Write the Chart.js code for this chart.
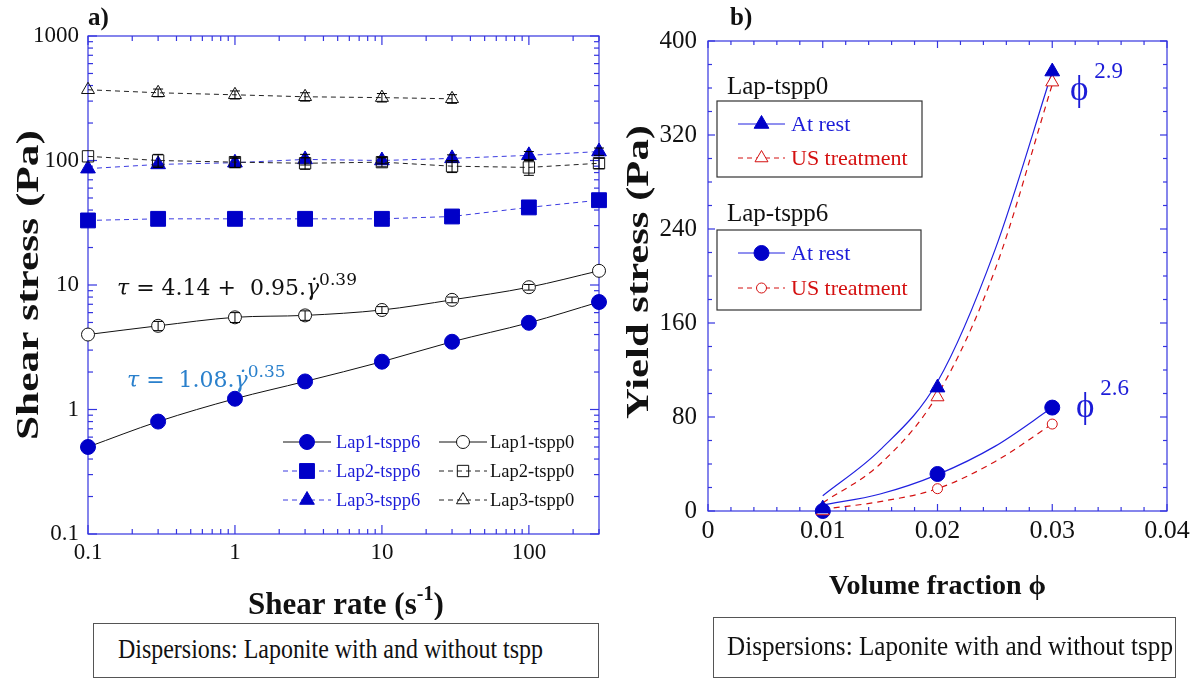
<!DOCTYPE html>
<html>
<head>
<meta charset="utf-8">
<script src="https://cdn.jsdelivr.net/npm/chart.js@4.4.0/dist/chart.umd.min.js"></script>
<style>
  body { margin: 0; background: #fff; width: 1199px; height: 679px; position: relative; overflow: hidden; font-family: "Liberation Serif", "Times New Roman", serif; }
  canvas { position: absolute; top: 0; }
  #left { left: 0; }
  #right { left: 600px; }
  .note { position: absolute; border: 1.5px solid #555; box-sizing: border-box; color: #111; white-space: nowrap; font-size: 28px; line-height: 1; }
  .note span { display: inline-block; transform-origin: 0 0; }
</style>
</head>
<body>
<canvas id="left" width="620" height="620"></canvas>
<canvas id="right" width="599" height="620"></canvas>
<div class="note" style="left:93px;top:623px;width:506px;height:55px;padding:11px 0 0 24px"><span data-w="425">Dispersions: Laponite with and without tspp</span></div>
<div class="note" style="left:713px;top:617px;width:463px;height:61px;padding:14px 0 0 13px"><span data-w="446">Dispersions: Laponite with and without tspp</span></div>
<script>
// ---- panel a: flow curves ----
const shearRate = [0.1, 0.3, 1, 3, 10, 30, 100, 300];
const lap1Tspp6 = [0.50, 0.80, 1.22, 1.68, 2.42, 3.5, 4.97, 7.3];
const lap1Tspp0 = [4.0, 4.7, 5.5, 5.7, 6.3, 7.6, 9.6, 13.0];
const lap2Tspp6 = [33, 34, 34, 34, 34, 35.5, 42, 48];
const lap2Tspp0 = [108, 100, 97, 95, 97, 90, 88, 95];
const lap3Tspp6 = [86, 93, 96, 102, 100, 104, 110, 118];
const lap3Tspp0 = [370, 350, 337, 325, 320, 313];
// error bar half-widths (Pa)
const lap1Tspp0Err = [0, 0.4, 0.5, 0.5, 0.4, 0.4, 0.5, 0];
const lap2Tspp0Err = [0, 12, 9, 10, 8, 10, 12, 9];
const lap3Tspp0Err = [0, 25, 25, 25, 25, 25];
const lap3Tspp6Err = [0, 0, 8, 10, 6, 7, 8, 8];
const rateTicks = [0.1, 1, 10, 100];
const stressTicks = [0.1, 1, 10, 100, 1000];

// ---- panel b: yield stress ----
const volFraction = [0.01, 0.02, 0.03];
const tspp0Rest = [2, 105, 374];
const tspp0US = [0, 97, 365];
const tspp6Rest = [0, 31.5, 88];
const tspp6US = [0, 19, 74];
const fitPhi = [0.01, 0.015, 0.02, 0.025, 0.03];
const fitTspp0Rest = [13, 52, 110, 222, 374];
const fitTspp0US = [7, 40, 99, 205, 363];
const fitTspp6Rest = [5, 14.5, 31, 55, 88];
const fitTspp6US = [1.5, 8, 19, 42, 74];
const phiTicks = [0, 0.01, 0.02, 0.03, 0.04];
const yieldTicks = [0, 80, 160, 240, 320, 400];

const BLUE = '#0000c8';
const AXIS = '#3434e0';
const LABEL_BLUE = '#1c1cd8';
const RED = '#d41010';
const SERIF = '"Liberation Serif", "Times New Roman", serif';

const pts = (xs, ys) => ys.map((v, i) => ({ x: xs[i], y: v }));

function drawRuns(ctx, x, y, runs, color) {
  ctx.fillStyle = color;
  ctx.textAlign = 'left';
  ctx.textBaseline = 'alphabetic';
  runs.forEach(([text, font, dy]) => {
    ctx.font = font;
    ctx.fillText(text, x, y + (dy || 0));
    x += ctx.measureText(text).width;
  });
}

// rotated axis title, stretched along its length to `len` pixels
function verticalTitle(ctx, text, cx, cy, font, len) {
  ctx.save();
  ctx.font = font;
  ctx.fillStyle = '#111';
  ctx.textAlign = 'center';
  ctx.textBaseline = 'middle';
  ctx.translate(cx, cy);
  ctx.rotate(-Math.PI / 2);
  ctx.scale(len / ctx.measureText(text).width, 1);
  ctx.fillText(text, 0, 0);
  ctx.restore();
}

function line(ctx, x1, y1, x2, y2) {
  ctx.beginPath();
  ctx.moveTo(x1, y1);
  ctx.lineTo(x2, y2);
  ctx.stroke();
}

// frame with ticks pointing into the plot on all four sides
const frameTicks = {
  id: 'frameTicks',
  beforeDatasetsDraw(chart, args, o) {
    const { ctx, chartArea: a, scales: { x, y } } = chart;
    ctx.save();
    ctx.strokeStyle = AXIS;
    ctx.lineWidth = 1.2;
    ctx.strokeRect(a.left, a.top, a.right - a.left, a.bottom - a.top);
    o.xTicks().forEach(([v, major]) => {
      const p = x.getPixelForValue(v);
      if (p < a.left - 0.5 || p > a.right + 0.5) return;
      const L = major ? o.major : o.minor;
      line(ctx, p, a.bottom, p, a.bottom - L);
      line(ctx, p, a.top, p, a.top + L);
    });
    o.yTicks().forEach(([v, major]) => {
      const p = y.getPixelForValue(v);
      if (p < a.top - 0.5 || p > a.bottom + 0.5) return;
      const L = major ? o.major : o.minor;
      line(ctx, a.left, p, a.left + L, p);
      line(ctx, a.right, p, a.right - L, p);
    });
    ctx.restore();
  }
};

function logTicks(lo, hi) {
  const out = [];
  for (let d = lo; d <= hi * 1.0001; d *= 10) {
    out.push([d, true]);
    for (let m = 2; m <= 9; m++) out.push([d * m, false]);
  }
  return out;
}
function linTicks(max, step, sub) {
  const out = [];
  const n = Math.round(max / step) * sub;
  for (let i = 0; i <= n; i++) out.push([i * step / sub, i % sub === 0]);
  return out;
}

// error bars for the datasets that carry an `err` array
const errorBars = {
  id: 'errorBars',
  afterDatasetsDraw(chart) {
    const { ctx, scales: { y } } = chart;
    ctx.save();
    chart.data.datasets.forEach((ds, i) => {
      if (!ds.err) return;
      const meta = chart.getDatasetMeta(i);
      ctx.strokeStyle = '#000';
      ctx.lineWidth = 1;
      meta.data.forEach((el, j) => {
        const e = ds.err[j];
        if (!e) return;
        const v = ds.data[j].y;
        const top = y.getPixelForValue(v + e), bot = y.getPixelForValue(v - e);
        line(ctx, el.x, top, el.x, bot);
        line(ctx, el.x - 5, top, el.x + 5, top);
        line(ctx, el.x - 5, bot, el.x + 5, bot);
      });
    });
    ctx.restore();
  }
};

function legendSample(ctx, ds, x1, x2, y) {
  ctx.save();
  ctx.strokeStyle = ds.borderColor;
  ctx.lineWidth = ds.borderWidth || 1;
  ctx.setLineDash(ds.borderDash || []);
  line(ctx, x1, y, x2, y);
  ctx.setLineDash([]);
  ctx.fillStyle = ds.pointBackgroundColor;
  ctx.strokeStyle = ds.pointBorderColor;
  ctx.lineWidth = ds.pointBorderWidth;
  Chart.helpers.drawPoint(ctx, { pointStyle: ds.pointStyle, radius: ds.pointRadius, rotation: 0, borderWidth: ds.pointBorderWidth }, (x1 + x2) / 2, y);
  ctx.restore();
}

// ---- panel a extras: legend, fitted equations, titles ----
const leftDecor = {
  id: 'leftDecor',
  afterDraw(chart) {
    const ctx = chart.ctx;
    const ds = chart.data.datasets;
    const rows = [442, 471, 500];
    const font = '18.5px ' + SERIF;
    [[0, 1], [4, 2], [5, 3]].forEach(([a, b], r) => {
      legendSample(ctx, ds[a], 283, 331, rows[r]);
      legendSample(ctx, ds[b], 439, 487, rows[r]);
      ctx.font = font;
      ctx.textBaseline = 'middle';
      ctx.textAlign = 'left';
      ctx.fillStyle = LABEL_BLUE;
      ctx.fillText(ds[a].label, 336, rows[r] + 1);
      ctx.fillStyle = '#111';
      ctx.fillText(ds[b].label, 490, rows[r] + 1);
    });

    const eq = '22px "DejaVu Serif", serif';
    const eqi = 'italic 22px "DejaVu Serif", serif';
    const sup = '17px "DejaVu Serif", serif';
    drawRuns(ctx, 117, 295, [['τ', eqi], [' = 4.14 +  0.95.', eq], ['γ̇', eqi], ['0.39', sup, -10]], '#111');
    drawRuns(ctx, 127, 387, [['τ', eqi], [' =  1.08.', eq], ['γ̇', eqi], ['0.35', sup, -10]], '#2a80cc');

    drawRuns(ctx, 88, 25, [['a)', 'bold 25px ' + SERIF]], '#111');
    drawRuns(ctx, 248, 614, [['Shear rate (s', 'bold 31px ' + SERIF], ['-1', 'bold 20px ' + SERIF, -14], [')', 'bold 31px ' + SERIF]], '#111');
    verticalTitle(ctx, 'Shear stress (Pa)', 30, 285, 'bold 32px ' + SERIF, 310);
  }
};

// ---- panel b extras: boxed legends, exponent labels, titles ----
const rightDecor = {
  id: 'rightDecor',
  afterDraw(chart) {
    const ctx = chart.ctx;
    const ds = chart.data.datasets;
    const o = 600; // canvas offset on the page
    const font = '22px ' + SERIF;
    const groups = [
      { title: 'Lap-tspp0', ty: 87, box: [717, 101, 205, 76], rows: [[0, 124], [1, 158]] },
      { title: 'Lap-tspp6', ty: 214, box: [717, 230, 204, 80], rows: [[2, 253], [3, 288]] }
    ];
    groups.forEach(g => {
      ctx.save();
      ctx.strokeStyle = '#333';
      ctx.lineWidth = 1.2;
      ctx.strokeRect(g.box[0] - o, g.box[1], g.box[2], g.box[3]);
      ctx.font = '25px ' + SERIF;
      ctx.fillStyle = '#111';
      ctx.textBaseline = 'middle';
      ctx.textAlign = 'left';
      ctx.fillText(g.title, 727 - o, g.ty);
      g.rows.forEach(([i, y]) => {
        legendSample(ctx, ds[i], 738 - o, 785 - o, y);
        ctx.font = font;
        ctx.fillStyle = i % 2 === 0 ? LABEL_BLUE : RED;
        ctx.textBaseline = 'middle';
        ctx.fillText(ds[i].label, 791 - o, y + 1);
      });
      ctx.restore();
    });
    drawRuns(ctx, 1070 - o, 100, [['ϕ', '35px ' + SERIF], [' 2.9', '23px ' + SERIF, -22]], LABEL_BLUE);
    drawRuns(ctx, 1076 - o, 417, [['ϕ', '35px ' + SERIF], [' 2.6', '23px ' + SERIF, -22]], LABEL_BLUE);
    drawRuns(ctx, 730 - o, 25, [['b)', 'bold 25px ' + SERIF]], '#111');
    verticalTitle(ctx, 'Yield stress (Pa)', 640 - o, 272, 'bold 31px ' + SERIF, 294);
  }
};

function fixed(size) {
  return s => {
    if (s.isHorizontal()) s.height = size; else s.width = size;
    s.paddingTop = s.paddingBottom = s.paddingLeft = s.paddingRight = 0;
  };
}

const tickFont = px => ({ family: SERIF, size: px });

// panel a
new Chart(document.getElementById('left'), {
  type: 'scatter',
  data: {
    datasets: [
      { label: 'Lap1-tspp6', data: pts(shearRate, lap1Tspp6), showLine: true, borderColor: '#111', borderWidth: 1,
        cubicInterpolationMode: 'monotone', pointStyle: 'circle', pointRadius: 7.5, pointBackgroundColor: BLUE, pointBorderColor: BLUE, pointBorderWidth: 1 },
      { label: 'Lap1-tspp0', data: pts(shearRate, lap1Tspp0), err: lap1Tspp0Err, showLine: true, borderColor: '#111', borderWidth: 1,
        cubicInterpolationMode: 'monotone', pointStyle: 'circle', pointRadius: 6.5, pointBackgroundColor: '#fff', pointBorderColor: '#111', pointBorderWidth: 1 },
      { label: 'Lap2-tspp0', data: pts(shearRate, lap2Tspp0), err: lap2Tspp0Err, showLine: true, borderColor: '#222', borderWidth: 1, borderDash: [5, 4],
        pointStyle: 'rect', pointRadius: 8, pointBackgroundColor: 'rgba(255,255,255,0)', pointBorderColor: '#111', pointBorderWidth: 1 },
      { label: 'Lap3-tspp0', data: pts(shearRate, lap3Tspp0), err: lap3Tspp0Err, showLine: true, borderColor: '#222', borderWidth: 1, borderDash: [5, 4],
        pointStyle: 'triangle', pointRadius: 7.5, pointBackgroundColor: 'rgba(255,255,255,0)', pointBorderColor: '#111', pointBorderWidth: 1 },
      { label: 'Lap2-tspp6', data: pts(shearRate, lap2Tspp6), showLine: true, borderColor: '#3a3ae0', borderWidth: 1, borderDash: [5, 4],
        pointStyle: 'rect', pointRadius: 10.5, pointBackgroundColor: BLUE, pointBorderColor: BLUE, pointBorderWidth: 1 },
      { label: 'Lap3-tspp6', data: pts(shearRate, lap3Tspp6), err: lap3Tspp6Err, showLine: true, borderColor: '#3a3ae0', borderWidth: 1, borderDash: [5, 4],
        pointStyle: 'triangle', pointRadius: 8.5, pointBackgroundColor: BLUE, pointBorderColor: BLUE, pointBorderWidth: 1 }
    ]
  },
  options: {
    responsive: false,
    animation: false,
    clip: false,
    layout: { padding: { top: 36, right: 21, left: 0, bottom: 0 } },
    plugins: {
      legend: { display: false },
      tooltip: { enabled: false },
      frameTicks: { major: 9, minor: 5, xTicks: () => logTicks(0.1, 100), yTicks: () => logTicks(0.1, 1000) }
    },
    scales: {
      x: {
        type: 'logarithmic', min: 0.1, max: 300,
        afterBuildTicks: s => { s.ticks = rateTicks.map(v => ({ value: v })); },
        afterFit: fixed(86),
        grid: { display: false, drawTicks: false }, border: { display: false },
        ticks: { color: '#111', font: tickFont(23), padding: 5, maxRotation: 0, autoSkip: false, callback: v => String(v) }
      },
      y: {
        type: 'logarithmic', min: 0.1, max: 1000,
        afterBuildTicks: s => { s.ticks = stressTicks.map(v => ({ value: v })); },
        afterFit: fixed(88),
        grid: { display: false, drawTicks: false }, border: { display: false },
        ticks: { color: '#111', font: tickFont(23), padding: 9, autoSkip: false, callback: v => String(v) }
      }
    }
  },
  plugins: [frameTicks, errorBars, leftDecor]
});

// panel b
new Chart(document.getElementById('right'), {
  type: 'scatter',
  data: {
    datasets: [
      { label: 'At rest', data: pts(volFraction, tspp0Rest), pointStyle: 'triangle', pointRadius: 8.5, pointBackgroundColor: BLUE, pointBorderColor: BLUE, pointBorderWidth: 1,
        borderColor: '#2020e0', borderWidth: 1 },
      { label: 'US treatment', data: pts(volFraction, tspp0US), pointStyle: 'triangle', pointRadius: 7.5, pointBackgroundColor: '#fff', pointBorderColor: RED, pointBorderWidth: 1,
        borderColor: RED, borderWidth: 1, borderDash: [5, 4] },
      { label: 'At rest', data: pts(volFraction, tspp6Rest), pointStyle: 'circle', pointRadius: 7.5, pointBackgroundColor: BLUE, pointBorderColor: BLUE, pointBorderWidth: 1,
        borderColor: '#2020e0', borderWidth: 1 },
      { label: 'US treatment', data: pts(volFraction, tspp6US), pointStyle: 'circle', pointRadius: 5, pointBackgroundColor: '#fff', pointBorderColor: RED, pointBorderWidth: 1,
        borderColor: RED, borderWidth: 1, borderDash: [5, 4] },
      { data: pts(fitPhi, fitTspp0Rest), showLine: true, pointRadius: 0, borderColor: '#2020e0', borderWidth: 1.2, cubicInterpolationMode: 'monotone' },
      { data: pts(fitPhi, fitTspp0US), showLine: true, pointRadius: 0, borderColor: RED, borderWidth: 1.2, borderDash: [6, 5], cubicInterpolationMode: 'monotone' },
      { data: pts(fitPhi, fitTspp6Rest), showLine: true, pointRadius: 0, borderColor: '#2020e0', borderWidth: 1.2, cubicInterpolationMode: 'monotone' },
      { data: pts(fitPhi, fitTspp6US), showLine: true, pointRadius: 0, borderColor: RED, borderWidth: 1.2, borderDash: [6, 5], cubicInterpolationMode: 'monotone' }
    ]
  },
  options: {
    responsive: false,
    animation: false,
    clip: false,
    layout: { padding: { top: 41, right: 32, left: 0, bottom: 0 } },
    plugins: {
      legend: { display: false },
      tooltip: { enabled: false },
      frameTicks: { major: 7, minor: 4, xTicks: () => linTicks(0.04, 0.01, 5), yTicks: () => linTicks(400, 80, 4) }
    },
    scales: {
      x: {
        type: 'linear', min: 0, max: 0.04,
        afterBuildTicks: s => { s.ticks = phiTicks.map(v => ({ value: v })); },
        afterFit: fixed(109),
        grid: { display: false, drawTicks: false }, border: { display: false },
        ticks: { color: '#111', font: tickFont(26), padding: 5, maxRotation: 0, autoSkip: false, callback: v => v === 0 ? '0' : v.toFixed(2) },
        title: { display: true, text: 'Volume fraction ϕ', color: '#111', font: { family: SERIF, size: 28, weight: 'bold' }, padding: { bottom: 16 } }
      },
      y: {
        type: 'linear', min: 0, max: 400,
        afterBuildTicks: s => { s.ticks = yieldTicks.map(v => ({ value: v })); },
        afterFit: fixed(108),
        grid: { display: false, drawTicks: false }, border: { display: false },
        ticks: { color: '#111', font: tickFont(25), padding: 11, autoSkip: false }
      }
    }
  },
  plugins: [frameTicks, rightDecor]
});

// squeeze the caption text of the two boxes to their printed width
document.querySelectorAll('.note span').forEach(s => {
  s.style.transform = 'scaleX(' + (Number(s.dataset.w) / s.offsetWidth) + ')';
});
</script>
</body>
</html>
